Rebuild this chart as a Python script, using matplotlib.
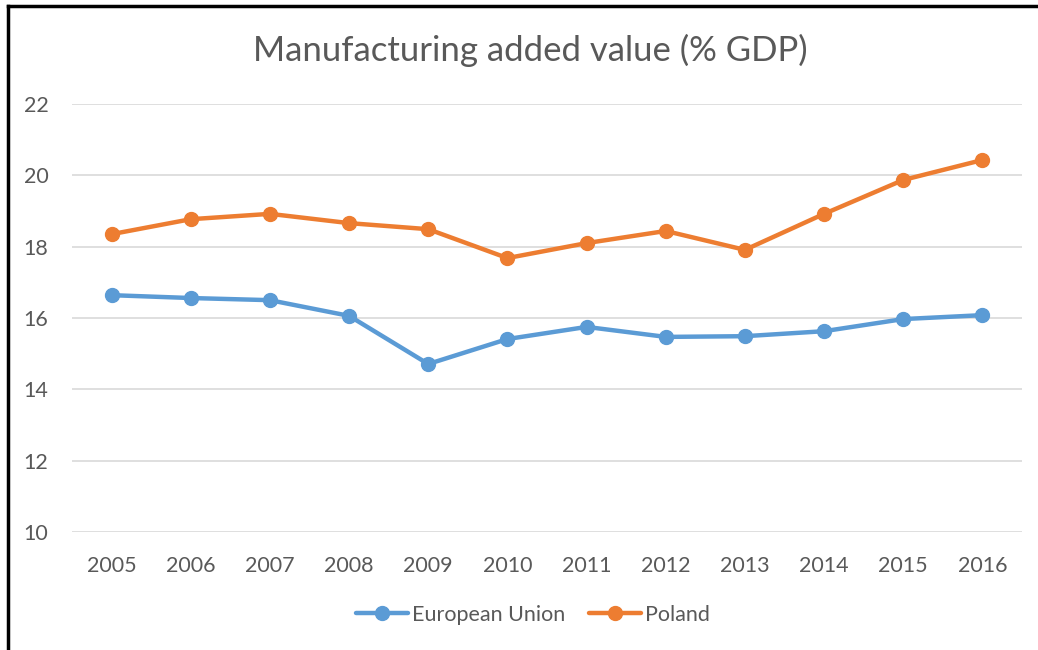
import matplotlib.pyplot as plt
from matplotlib.lines import Line2D

years = ["2005", "2006", "2007", "2008", "2009", "2010",
         "2011", "2012", "2013", "2014", "2015", "2016"]
eu = [16.64, 16.56, 16.50, 16.06, 14.71, 15.41, 15.75, 15.47, 15.49, 15.63, 15.97, 16.08]
poland = [18.35, 18.77, 18.92, 18.66, 18.49, 17.68, 18.10, 18.44, 17.91, 18.92, 19.87, 20.43]
y_ticks = [10, 12, 14, 16, 18, 20, 22]

TEXT = "#595959"
plt.rcParams["font.family"] = ["Lato", "DejaVu Sans"]

fig = plt.figure(figsize=(10.38, 6.5), dpi=100)
W, H = 1038, 650
ax = fig.add_axes([72 / W, 1 - 532 / H, (1022 - 72) / W, (532 - 104) / H])

x = range(len(years))
ax.plot(x, eu, color="#5B9BD5", lw=3.2, marker="o", ms=10, label="European Union",
        solid_capstyle="round", zorder=3)
ax.plot(x, poland, color="#ED7D31", lw=3.2, marker="o", ms=10, label="Poland",
        solid_capstyle="round", zorder=3)

ax.set_xlim(-0.5, len(years) - 0.5)
ax.set_ylim(10, 22)
ax.set_yticks(y_ticks)
ax.set_xticks(list(x))
ax.set_xticklabels(years)
ax.grid(axis="y", color="#D9D9D9", lw=1.2)
ax.set_axisbelow(True)
for s in ax.spines.values():
    s.set_visible(False)
ax.tick_params(length=0, labelsize=15.5, labelcolor=TEXT)
ax.tick_params(axis="y", pad=17)
ax.tick_params(axis="x", pad=17)

fig.text(530 / W, 1 - 50 / H, "Manufacturing added value (% GDP)", ha="center",
         va="center", fontsize=25, color=TEXT)

fig.legend(loc="center", bbox_to_anchor=(533 / W, 1 - 615 / H), ncol=2, frameon=False,
           fontsize=15.5, labelcolor=TEXT, handlelength=2.4, handletextpad=0.2,
           columnspacing=1.1)

# chart border (only top and left edges visible in the crop)
fig.add_artist(Line2D([8 / W, 1], [1 - 6 / H, 1 - 6 / H], color="black", lw=2.5))
fig.add_artist(Line2D([8 / W, 8 / W], [0, 1 - 6 / H], color="black", lw=2.5))

fig.savefig("out.png", dpi=100)
